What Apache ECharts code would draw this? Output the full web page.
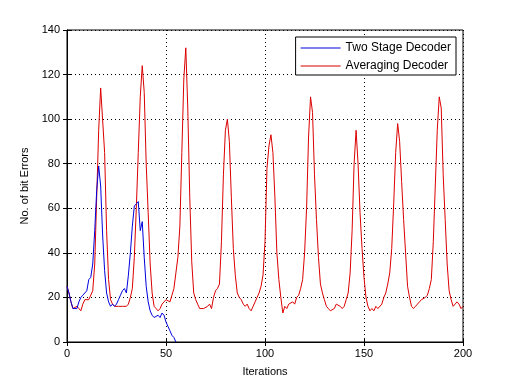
<!DOCTYPE html>
<html>
<head>
<meta charset="utf-8">
<script src="https://cdn.jsdelivr.net/npm/echarts@6/dist/echarts.min.js"></script>
<style>
    html, body { margin: 0; padding: 0; background: #fff; }
    #chart { width: 512px; height: 384px; }
</style>
</head>
<body>
<div id="chart"></div>
<script>
// values, one per iteration
var averaging = [
    25, 22, 18, 15, 15, 16, 15, 14, 17, 19,
    19, 19, 19, 23, 35, 65, 95, 114, 114, 85,
    50, 28, 19, 17, 16, 16, 16, 16, 16, 16,
    16, 17, 20, 24, 38, 60, 85, 110, 124, 112,
    80, 58, 35, 22, 16, 15, 14, 15, 17, 18,
    19, 19, 18, 21, 24, 31, 38, 52, 85, 118,
    132, 105, 65, 36, 22, 19, 17, 15, 15, 15,
    15, 16, 17, 15, 20, 23, 24, 26, 45, 75,
    95, 100, 90, 65, 42, 30, 22, 20, 19, 17,
    16, 17, 15, 14, 16, 18, 20, 22, 25, 30,
    45, 78, 88, 93, 85, 65, 40, 28, 20, 13,
    16, 15, 17, 17, 18, 17, 20, 21, 24, 28,
    40, 60, 92, 110, 103, 75, 55, 38, 26, 22,
    19, 16, 15, 14, 14, 15, 17, 17, 16, 15,
    16, 19, 22, 31, 50, 80, 95, 80, 58, 42,
    29, 20, 16, 14, 15, 14, 16, 15, 15, 17,
    20, 22, 26, 31, 42, 62, 85, 98, 90, 72,
    55, 40, 25, 20, 16, 15, 16, 17, 18, 19,
    19, 20, 21, 24, 28, 45, 70, 95, 110, 105,
    75, 55, 35, 23, 19, 16, 16, 18, 17, 15,
    16
];
var twoStage = [
    25, 22, 18, 15, 15, 15, 18, 20, 21, 22,
    23, 28, 29, 35, 50, 68, 79, 70, 48, 32,
    22, 18, 16, 17, 16, 17, 19, 21, 23, 24,
    22, 30, 40, 52, 61, 62, 63, 50, 54, 38,
    25, 18, 14, 12, 11, 11, 12, 11, 13, 12,
    9, 7, 5, 3, 2, 0
];
var xTicks = [0, 50, 100, 150, 200];
var yTicks = [0, 20, 40, 60, 80, 100, 120, 140];
var seriesNames = ['Two Stage Decoder', 'Averaging Decoder'];

function toPairs(arr) {
    return arr.map(function (v, i) { return [i, v]; });
}

var font = 'Liberation Sans, Arial, sans-serif';
var myChart = echarts.init(document.getElementById('chart'));

var tickCfg = { show: true, inside: true, length: 4, lineStyle: { color: '#000' } };
var gridLine = { show: true, lineStyle: { color: '#000', type: [1, 3], width: 1 } };

var option = {
    backgroundColor: '#fff',
    animation: false,
    grid: {
        left: 67, top: 30, width: 396, height: 312,
        show: true, borderColor: '#000', borderWidth: 1, backgroundColor: '#fff'
    },
    legend: {
        data: seriesNames,
        orient: 'vertical',
        right: 56,
        top: 37,
        padding: [4, 5, 2, 5],
        itemGap: 4,
        itemWidth: 40,
        itemHeight: 1,
        icon: 'rect',
        backgroundColor: '#fff',
        borderColor: '#000',
        borderWidth: 1,
        borderRadius: 0,
        textStyle: { fontFamily: font, fontSize: 12, color: '#000', lineHeight: 14 }
    },
    xAxis: [
        {
            type: 'value', min: 0, max: 200, interval: 50,
            name: 'Iterations', nameLocation: 'middle', nameGap: 24,
            nameTextStyle: { fontFamily: font, fontSize: 11, color: '#000' },
            axisLine: { show: true, lineStyle: { color: '#000' } },
            axisTick: tickCfg,
            axisLabel: {
                fontFamily: font, fontSize: 11, color: '#000', margin: 6,
                formatter: function (v) { return xTicks.indexOf(v) >= 0 ? String(v) : ''; }
            },
            splitLine: gridLine
        },
        {
            type: 'value', min: 0, max: 200, interval: 50, position: 'top',
            axisLine: { show: true, lineStyle: { color: '#000' } },
            axisTick: tickCfg, axisLabel: { show: false }, splitLine: { show: false }
        }
    ],
    yAxis: [
        {
            type: 'value', min: 0, max: 140, interval: 20,
            name: 'No. of bit Errors', nameLocation: 'middle', nameGap: 25,
            nameTextStyle: { fontFamily: font, fontSize: 11, color: '#000' },
            axisLine: { show: true, lineStyle: { color: '#000' } },
            axisTick: tickCfg,
            axisLabel: {
                fontFamily: font, fontSize: 11, color: '#000', margin: 7,
                formatter: function (v) { return yTicks.indexOf(v) >= 0 ? String(v) : ''; }
            },
            splitLine: gridLine
        },
        {
            type: 'value', min: 0, max: 140, interval: 20, position: 'right',
            axisLine: { show: true, lineStyle: { color: '#000' } },
            axisTick: tickCfg, axisLabel: { show: false }, splitLine: { show: false }
        }
    ],
    series: [
        {
            name: seriesNames[0],
            type: 'line',
            data: toPairs(twoStage),
            symbol: 'none',
            lineStyle: { color: '#0000dd', width: 1 },
            itemStyle: { color: '#0000dd' },
            z: 3
        },
        {
            name: seriesNames[1],
            type: 'line',
            data: toPairs(averaging),
            symbol: 'none',
            lineStyle: { color: '#dd0000', width: 1 },
            itemStyle: { color: '#dd0000' },
            z: 2
        }
    ]
};
myChart.setOption(option);
</script>
</body>
</html>
